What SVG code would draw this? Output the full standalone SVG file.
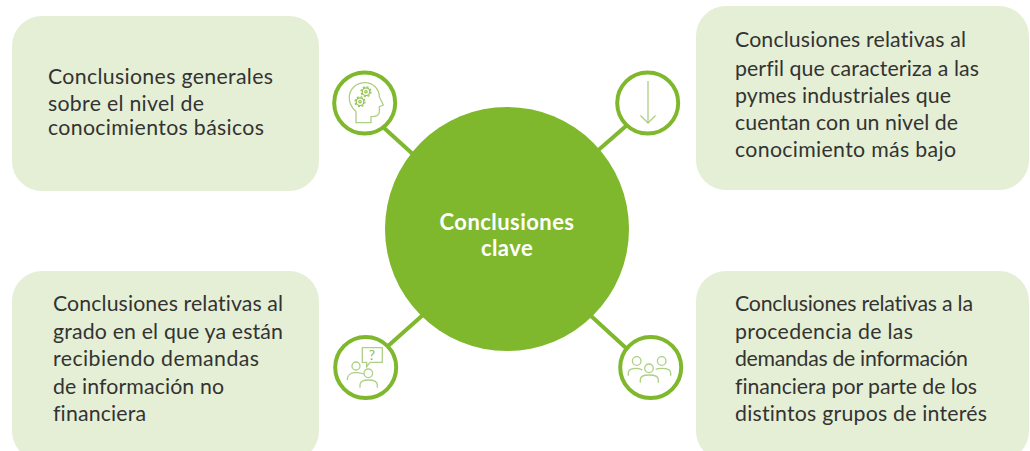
<svg xmlns="http://www.w3.org/2000/svg" width="1030" height="451" viewBox="0 0 1030 451">
<style>
.box{fill:#e5efd5}
.t{font-family:"Lato","Liberation Sans",sans-serif;font-size:21.3px;fill:#333;font-variant-ligatures:none}
.c{font-family:"Lato","Liberation Sans",sans-serif;font-size:22px;letter-spacing:.45px;font-weight:700;fill:#fff;text-anchor:middle}
.ring{fill:#fff;stroke:#7fb82d;stroke-width:4}
.ic{fill:none;stroke:#add083;stroke-width:1.3}
.g{fill:none;stroke:#8fc04a;stroke-width:1.2}
.ln{stroke:#7fb82d;stroke-width:4;fill:none}
</style>
<g id="connectors">
<line class="ln" x1="383" y1="127" x2="416" y2="157"/>
<line class="ln" x1="626" y1="126" x2="595" y2="153"/>
<line class="ln" x1="388" y1="346" x2="424" y2="314"/>
<line class="ln" x1="626" y1="348" x2="590" y2="315"/>
</g>
<g id="center"><circle cx="507" cy="229" r="122" fill="#7fb82d"/>
<text class="c" x="507" y="230">Conclusiones</text>
<text class="c" x="507" y="256">clave</text></g>
<g id="box-tl"><rect class="box" x="12" y="16" width="307" height="175" rx="30"/>
<text class="t" x="48" y="84" textLength="225">Conclusiones generales</text><text class="t" x="48" y="111" textLength="156">sobre el nivel de</text><text class="t" x="48" y="135" textLength="216">conocimientos básicos</text></g>
<g id="box-tr"><rect class="box" x="696" y="6" width="333" height="184" rx="30"/>
<text class="t" x="735" y="47" textLength="231">Conclusiones relativas al</text><text class="t" x="735" y="76" textLength="244">perfil que caracteriza a las</text><text class="t" x="735" y="103" textLength="216">pymes industriales que</text><text class="t" x="735" y="130" textLength="223">cuentan con un nivel de</text><text class="t" x="735" y="157" textLength="221">conocimiento más bajo</text></g>
<g id="box-bl"><rect class="box" x="12" y="271" width="307" height="190" rx="30"/>
<text class="t" x="53" y="311" textLength="230">Conclusiones relativas al</text><text class="t" x="53" y="339" textLength="230">grado en el que ya están</text><text class="t" x="53" y="366" textLength="206">recibiendo demandas</text><text class="t" x="53" y="394" textLength="171">de información no</text><text class="t" x="53" y="421" textLength="93">financiera</text></g>
<g id="box-br"><rect class="box" x="696" y="271" width="333" height="190" rx="30"/>
<text class="t" x="735" y="311" textLength="238">Conclusiones relativas a la</text><text class="t" x="735" y="339" textLength="178">procedencia de las</text><text class="t" x="735" y="366" textLength="233">demandas de información</text><text class="t" x="735" y="394" textLength="242">financiera por parte de los</text><text class="t" x="735" y="421" textLength="252">distintos grupos de interés</text></g>
<g id="icon-head"><circle class="ring" cx="364.700" cy="103" r="30.500"/>
<path class="ic" d="M356 122.700V111.500C351 107 349 102 349.300 96.700C349.800 88 357 82.700 365 82.700C373 82.700 379.300 89 379.300 96.700L383.300 105L379.300 106.700V112C379.300 115.500 376 116.700 371 116.700V122.700Z"/>
<circle class="g" cx="366" cy="91.700" r="3.800"/><circle class="g" cx="366" cy="91.700" r="5" stroke-dasharray="2 1.930"/><circle class="g" cx="366" cy="91.700" r="1.200"/>
<circle class="g" cx="360" cy="101.700" r="3.800"/><circle class="g" cx="360" cy="101.700" r="5" stroke-dasharray="2 1.930"/><circle class="g" cx="360" cy="101.700" r="1.200"/></g>
<g id="icon-arrow"><circle class="ring" cx="647.700" cy="103" r="30.500"/>
<path class="ic" d="M648 81V123M640.500 115.500L648 123L655.500 115.500"/></g>
<g id="icon-question"><circle class="ring" cx="365.700" cy="367.500" r="30.500"/>
<path class="ic" d="M362.300 347.700H382.300V362.300H370L366.700 366.700V362.300H362.300Z"/>
<text x="372" y="360" text-anchor="middle" style="font-family:Lato,sans-serif;font-size:14px;fill:#8fc04a">?</text>
<circle class="ic" cx="356" cy="366" r="4"/><path class="ic" d="M347.300 380C347.300 375 351 372.700 355 372.700C358 372.700 361 373 364 374"/>
<circle class="ic" cx="368.300" cy="373.300" r="4.300"/><path class="ic" d="M360 387.700V385C360 381.500 364 380 368.500 380C373 380 377.300 381.500 377.300 385V387.700"/></g>
<g id="icon-people"><circle class="ring" cx="650.700" cy="367.500" r="30.500"/>
<circle class="ic" cx="636.700" cy="361" r="4.300"/><path class="ic" d="M628.300 375.700V373C628.300 370 632 368.300 636.700 368.300C639 368.300 641 369 642.300 370"/>
<circle class="ic" cx="661.700" cy="361" r="4.300"/><path class="ic" d="M670.700 375.700V373C670.700 370 667 368.300 661.700 368.300C659 368.300 657 368.500 655.700 369.500"/>
<circle class="ic" cx="649" cy="368.300" r="4.300"/><path class="ic" d="M640.300 382.700V379.500C640.300 376.500 644 375 649 375C654 375 658.300 376.500 658.300 379.500V382.700"/></g>
</svg>
